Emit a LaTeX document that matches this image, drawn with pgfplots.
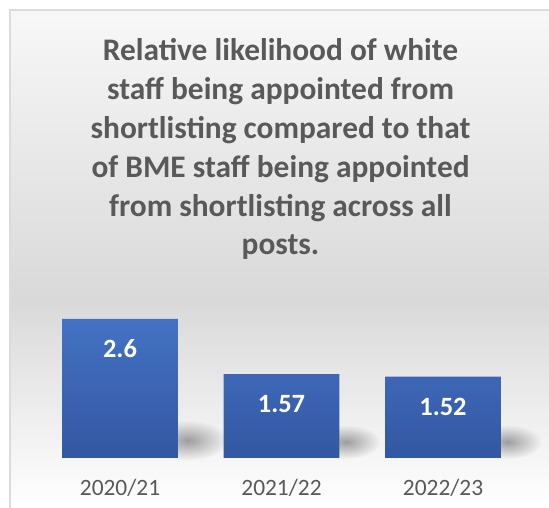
\documentclass[border=0pt]{standalone}
\usepackage{pgfplots}
\pgfplotsset{compat=1.18}
\usepackage{fontspec}
\setmainfont{Carlito}
\usetikzlibrary{fadings}
\tikzfading[name=myfade, inner color=transparent!0, outer color=transparent!100]
\definecolor{txt}{HTML}{595959}
\definecolor{bartop}{HTML}{4472C4}
\definecolor{barbot}{HTML}{3357A2}
\definecolor{bgmid}{HTML}{D9D9D9}
\begin{document}
\begin{tikzpicture}[x=1bp,y=1bp]
\path[use as bounding box] (0,0) rectangle (549,508);
\fill[white] (0,0) rectangle (549,508);
\shade[top color=white!97!black, bottom color=bgmid] (10,208) rectangle (549,498);
\shade[top color=bgmid, bottom color=white] (10,0) rectangle (549,208);
\draw[black!14, line width=1.5bp] (10,-2) -- (10,498) -- (551,498);
\begin{scope}[every node/.style={font=\bfseries\fontsize{31.5}{38}\selectfont, text=txt, anchor=base, inner sep=0pt}]
\node at (280.5,447) {Relative likelihood of white};
\node at (280.5,408.2) {staff being appointed from};
\node at (280.5,369.4) {shortlisting compared to that};
\node at (280.5,330.6) {of BME staff being appointed};
\node at (280.5,291.8) {from shortlisting across all};
\node at (280.5,253) {posts.};
\end{scope}
\begin{axis}[
  at={(23.1bp,50bp)}, anchor=south west, scale only axis,
  width=516.8bp, height=160.5bp,
  xmin=-0.6, xmax=2.6, ymin=0, ymax=3,
  axis line style={draw=none},
  major tick length=0pt,
  ytick=\empty,
  xtick=data,
  xticklabels={2020/21,2021/22,2022/23},
  xticklabel style={font=\fontsize{23.5}{28}\selectfont, text=txt, anchor=base, yshift=-38bp, inner sep=0pt},
  /pgf/number format/assume math mode=true,
  clip=false,
]
\fill[black!38, path fading=myfade] (axis cs:0.42,0.33) ellipse [x radius=40bp, y radius=20bp];
\fill[black!38, path fading=myfade] (axis cs:1.40,0.3) ellipse [x radius=34bp, y radius=17bp];
\fill[black!38, path fading=myfade] (axis cs:2.40,0.3) ellipse [x radius=34bp, y radius=17bp];
\addplot[ybar, bar width=0.718, draw=none, top color=bartop, bottom color=barbot,
  nodes near coords,
  every node near coord/.append style={font=\bfseries\fontsize{26.5}{30}\selectfont, text=white, anchor=center, yshift=-30bp}]
  coordinates {(0,2.6) (1,1.57) (2,1.52)};
\end{axis}
\end{tikzpicture}
\end{document}
